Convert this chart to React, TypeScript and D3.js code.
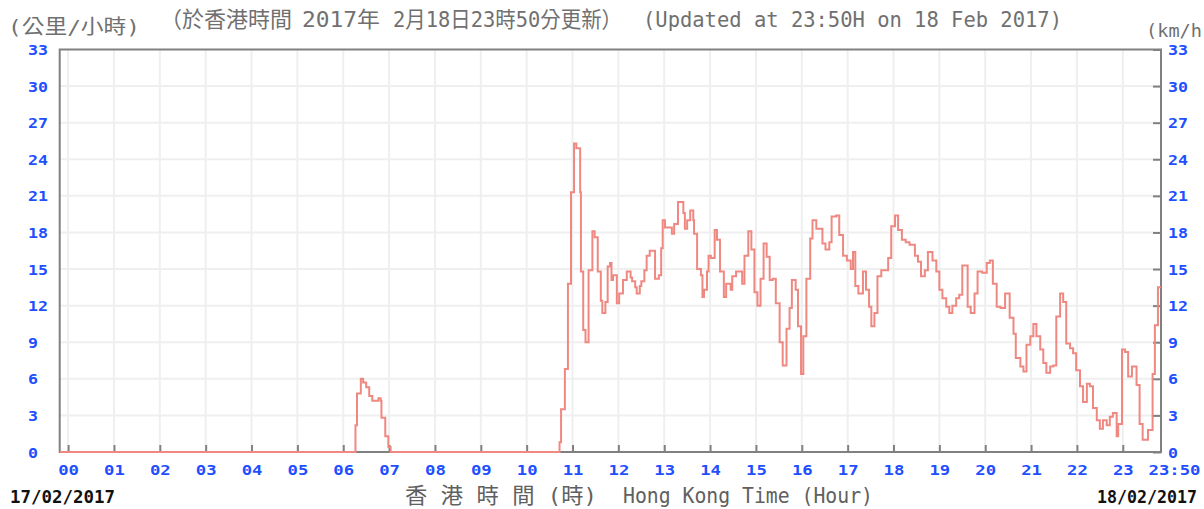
import React, { useEffect, useRef } from "react";
import * as d3 from "d3";

// wind speed (km/h), each value holds from its time until the next one
const times = [
  "-00:11", "06:16", "06:18", "06:23", "06:26", "06:30", "06:34", "06:38", "06:46", "06:49",
  "06:50", "06:55", "06:59", "07:02",
  "10:43", "10:45", "10:50", "10:54", "10:58", "11:02", "11:05", "11:10", "11:11", "11:14",
  "11:17", "11:21", "11:26", "11:29", "11:33", "11:37", "11:39", "11:43", "11:46", "11:49",
  "11:51", "11:53", "11:58", "12:01", "12:06", "12:11", "12:16", "12:18", "12:22", "12:24",
  "12:28", "12:30", "12:34", "12:37", "12:41", "12:48", "12:53", "12:56", "12:58", "13:01",
  "13:10", "13:13", "13:18", "13:25", "13:27", "13:30", "13:34", "13:38", "13:39", "13:43",
  "13:48", "13:50", "13:52", "13:56", "13:58", "14:01", "14:06", "14:09", "14:13", "14:18",
  "14:21", "14:27", "14:29", "14:34", "14:42", "14:45", "14:50", "14:54", "14:58", "15:02",
  "15:06", "15:10", "15:14", "15:18", "15:22", "15:26", "15:31", "15:35", "15:40", "15:44",
  "15:47", "15:52", "15:55", "15:59", "16:02", "16:06", "16:11", "16:14", "16:19", "16:27",
  "16:31", "16:36", "16:39", "16:45", "16:49", "16:54", "16:59", "17:04", "17:07", "17:10",
  "17:14", "17:20", "17:24", "17:28", "17:31", "17:35", "17:39", "17:44", "17:53", "17:57",
  "18:02", "18:06", "18:11", "18:16", "18:21", "18:28", "18:32", "18:36", "18:41", "18:45",
  "18:51", "18:56", "19:00", "19:04", "19:09", "19:13", "19:17", "19:22", "19:26", "19:30",
  "19:37", "19:41", "19:46", "19:50", "19:56", "20:02", "20:06", "20:10", "20:15", "20:20",
  "20:26", "20:32", "20:37", "20:40", "20:46", "20:50", "20:54", "20:59", "21:03", "21:07",
  "21:12", "21:16", "21:20", "21:25", "21:29", "21:33", "21:38", "21:42", "21:46", "21:51",
  "21:55", "21:59", "22:04", "22:08", "22:13", "22:17", "22:21", "22:26", "22:30", "22:34",
  "22:39", "22:43", "22:47", "22:52", "22:54", "22:59", "23:03", "23:07", "23:12", "23:18",
  "23:22", "23:26", "23:33", "23:39", "23:42", "23:46", "23:50",
];

const speeds = [
  0, 2.2, 4.8, 6.0, 5.7, 5.3, 4.6, 4.2, 4.4, 4.2,
  2.8, 1.3, 0.4, 0,
  0.8, 3.5, 6.8, 13.8, 21.3, 25.3, 24.9, 21.3, 14.8, 10.0,
  9.0, 14.9, 18.1, 17.6, 14.8, 12.4, 11.4, 12.3, 15.2, 15.5,
  14.1, 14.5, 12.2, 13.0, 14.1, 14.8, 14.3, 14.0, 13.5, 13.0,
  13.6, 14.0, 14.9, 16.1, 16.5, 14.2, 14.5, 16.7, 19.0, 18.4,
  17.9, 18.7, 20.5, 19.6, 18.3, 19.0, 19.8, 19.0, 17.9, 15.0,
  14.5, 12.7, 13.3, 14.8, 16.1, 15.9, 18.2, 17.4, 14.8, 12.7,
  13.8, 13.3, 14.4, 14.8, 13.8, 16.1, 18.1, 16.6, 13.1, 12.0,
  14.2, 17.1, 16.0, 14.1, 14.2, 12.2, 9.0, 7.1, 10.1, 11.8,
  14.1, 13.3, 10.3, 6.4, 9.5, 14.2, 17.5, 19.0, 18.3, 17.1,
  16.6, 17.2, 19.3, 19.4, 17.8, 16.1, 15.7, 15.0, 16.4, 13.6,
  13.0, 14.8, 13.3, 11.9, 10.3, 11.4, 14.4, 14.9, 15.9, 18.5,
  19.4, 18.2, 17.4, 17.2, 17.0, 16.1, 15.6, 14.4, 14.9, 16.4,
  15.7, 14.8, 13.3, 12.6, 11.9, 11.4, 12.0, 12.6, 12.9, 15.3,
  11.9, 11.4, 13.0, 14.8, 14.7, 15.5, 15.7, 13.8, 11.9, 11.8,
  13.0, 11.0, 9.7, 7.7, 7.0, 6.6, 8.8, 9.5, 10.5, 9.5,
  8.4, 7.3, 6.5, 7.0, 7.1, 11.1, 13.0, 12.3, 8.9, 8.5,
  8.1, 6.7, 5.4, 4.1, 5.6, 5.4, 3.6, 2.6, 1.9, 2.6,
  2.2, 2.9, 3.2, 1.3, 2.3, 8.4, 8.2, 6.2, 7.0, 5.5,
  2.3, 1.0, 1.8, 6.4, 10.4, 13.5, 13.5,
];

const hourTicks = [
  "00", "01", "02", "03", "04", "05", "06", "07", "08", "09", "10", "11",
  "12", "13", "14", "15", "16", "17", "18", "19", "20", "21", "22", "23", "23:50",
];
const speedTicks = [0, 3, 6, 9, 12, 15, 18, 21, 24, 27, 30, 33];

const MONO = "'DejaVu Sans Mono', 'Noto Sans CJK TC', monospace";
const BLUE = "#1f4fff";

// "HH:MM" -> minutes from midnight (leading "-" = before midnight)
const toMinutes = (s: string) => {
  const neg = s.startsWith("-");
  const [h, m] = s.replace("-", "").split(":").map(Number);
  return (neg ? -1 : 1) * (h * 60 + m);
};

const App: React.FC = () => {
  const svgRef = useRef<SVGSVGElement>(null);

  useEffect(() => {
    if (!svgRef.current) return;
    const width = 1204;
    const height = 509;
    const plot = { left: 59.7, right: 1161, top: 49.5, bottom: 452 };

    const data: [number, number][] = times.map((t, i) => [toMinutes(t), speeds[i]]);

    const xScale = d3
      .scaleLinear()
      .domain([toMinutes(times[0]), toMinutes(times[times.length - 1])])
      .range([plot.left, plot.right]);
    const yScale = d3.scaleLinear().domain([0, 33]).range([plot.bottom, plot.top]);

    const tickMinutes = hourTicks.map((h) => (h.includes(":") ? toMinutes(h) : +h * 60));

    const svg = d3.select(svgRef.current).attr("width", width).attr("height", height);
    svg.selectAll("*").remove();
    svg.append("rect").attr("width", width).attr("height", height).attr("fill", "#fff");

    // grid
    const grid = svg.append("g").attr("stroke", "#efefef").attr("stroke-width", 2);
    grid
      .selectAll("line.v")
      .data(tickMinutes.slice(0, -1))
      .join("line")
      .attr("x1", (d) => xScale(d))
      .attr("x2", (d) => xScale(d))
      .attr("y1", plot.top)
      .attr("y2", plot.bottom);
    grid
      .selectAll("line.h")
      .data(speedTicks.slice(1, -1))
      .join("line")
      .attr("x1", plot.left)
      .attr("x2", plot.right)
      .attr("y1", (d) => yScale(d))
      .attr("y2", (d) => yScale(d));

    // frame
    svg
      .append("rect")
      .attr("x", plot.left)
      .attr("y", plot.top)
      .attr("width", plot.right - plot.left)
      .attr("height", plot.bottom - plot.top)
      .attr("fill", "none")
      .attr("stroke", "#808080")
      .attr("stroke-width", 2);

    // bottom axis
    const xAxis = svg
      .append("g")
      .attr("transform", `translate(0,${plot.bottom})`)
      .call(
        d3
          .axisBottom(xScale)
          .tickValues(tickMinutes)
          .tickSize(-7)
          .tickPadding(13)
          .tickFormat((_, i) => hourTicks[i])
      );
    xAxis.select(".domain").remove();
    xAxis.selectAll(".tick line").attr("stroke", "#808080").attr("stroke-width", 2);
    xAxis.selectAll(".tick:last-of-type line").remove();
    xAxis
      .selectAll<SVGTextElement, number>(".tick text")
      .attr("fill", BLUE)
      .attr("font-family", MONO)
      .attr("font-weight", "bold")
      .attr("font-size", 14)
      .attr("textLength", (_, i) => hourTicks[i].length * 10.4)
      .attr("lengthAdjust", "spacingAndGlyphs")
      .attr("x", (_, i) => (i === hourTicks.length - 1 ? 13 : 0));

    // right axis
    const rAxis = svg
      .append("g")
      .attr("transform", `translate(${plot.right},0)`)
      .call(d3.axisRight(yScale).tickValues(speedTicks).tickSize(-8).tickPadding(7));
    rAxis.select(".domain").remove();
    rAxis.selectAll(".tick line").attr("stroke", "#808080").attr("stroke-width", 2);

    // left axis
    const lAxis = svg
      .append("g")
      .attr("transform", `translate(${plot.left},0)`)
      .call(d3.axisLeft(yScale).tickValues(speedTicks).tickSize(0));
    lAxis.select(".domain").remove();
    lAxis.selectAll("text").attr("text-anchor", "start").attr("x", 28 - plot.left);

    [rAxis, lAxis].forEach((ax) =>
      ax
        .selectAll<SVGTextElement, number>(".tick text")
        .attr("fill", BLUE)
        .attr("font-family", MONO)
        .attr("font-weight", "bold")
        .attr("font-size", 14)
        .attr("dy", "0.36em")
        .attr("textLength", (d) => String(d).length * 10)
        .attr("lengthAdjust", "spacingAndGlyphs")
    );

    // wind speed line
    const line = d3
      .line<[number, number]>()
      .x((d) => xScale(d[0]))
      .y((d) => yScale(d[1]))
      .curve(d3.curveStepAfter);
    svg
      .append("path")
      .datum(data)
      .attr("fill", "none")
      .attr("stroke", "#f08882")
      .attr("stroke-width", 2)
      .attr("d", line);

    // texts
    const label = (
      txt: string,
      x: number,
      y: number,
      size: number,
      len: number,
      fill: string,
      weight = "normal"
    ) =>
      svg
        .append("text")
        .attr("x", x)
        .attr("y", y)
        .attr("font-family", MONO)
        .attr("font-size", size)
        .attr("font-weight", weight)
        .attr("fill", fill)
        .attr("textLength", len)
        .attr("lengthAdjust", "spacingAndGlyphs")
        .text(txt);

    label("(公里/小時)", 8, 34, 20, 132, "#707070");
    label("（於香港時間", 160, 27, 22, 132, "#707070");
    label("2017年", 302, 27, 22, 78, "#707070");
    label("2月18日23時50分更新）", 393, 27, 22, 229, "#707070");
    label("(Updated at 23:50H on 18 Feb 2017)", 643, 27, 22, 419, "#707070");
    label("(km/h", 1146, 37, 18, 56, "#707070");

    label("17/02/2017", 10, 503, 18, 105, "#111", "bold");
    label("18/02/2017", 1097, 503, 18, 100, "#111", "bold");
    label("香 港 時 間 (時)", 405, 503, 22, 192, "#606060");
    label("Hong Kong Time (Hour)", 623, 503, 22, 250, "#606060");
  }, []);

  return (
    <div style={{ position: "absolute", left: 0, top: 0, width: 1204, height: 509, overflow: "hidden" }}>
      <svg ref={svgRef} style={{ display: "block" }}></svg>
    </div>
  );
};

export default App;
